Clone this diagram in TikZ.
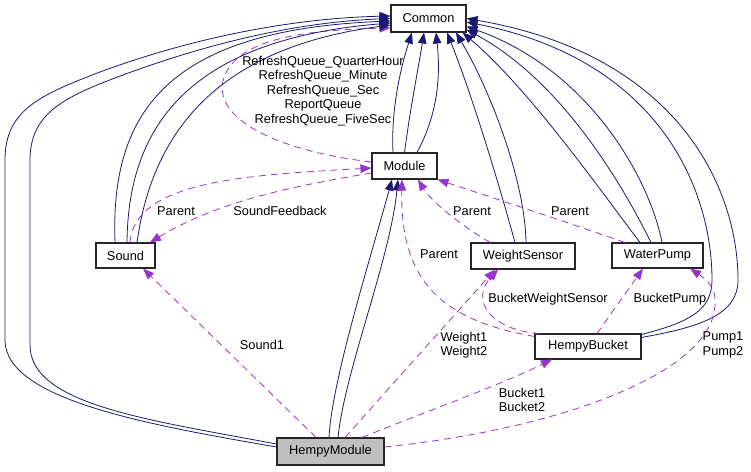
\documentclass[tikz,border=0pt]{standalone}
\usepackage{fontspec}
\setmainfont{Liberation Sans}
\usetikzlibrary{arrows.meta,positioning}

\definecolor{edgeblue}{HTML}{191970}
\definecolor{edgepurple}{HTML}{9A32CD}
\definecolor{nodegrey}{HTML}{BFBFBF}

\begin{document}
\begin{tikzpicture}[
    x=1pt, y=-1pt,
    font=\fontsize{12.8}{14.5}\selectfont,
    cls/.style={rectangle, draw=black!85, line width=1.1pt, fill=white, inner sep=0pt, minimum height=25pt},
    inherit/.style={-{Triangle[length=11pt,width=8.5pt]}, draw=edgeblue, line width=0.8pt},
    member/.style={-{Triangle[length=11pt,width=8.5pt]}, draw=edgepurple, line width=0.8pt, dash pattern=on 7pt off 5pt},
    lbl/.style={align=center, inner sep=0pt}
]
\useasboundingbox (0,0) rectangle (751,471);

% Classes
\node[cls, minimum width=75pt, minimum height=27pt] (common) at (428.5,18.5) {Common};
\node[cls, minimum width=65pt, minimum height=26pt] (module) at (404.5,166) {Module};
\node[cls, minimum width=59pt] (sound) at (125.5,255.5) {Sound};
\node[cls, minimum width=104pt, minimum height=26pt] (weight) at (523,256) {WeightSensor};
\node[cls, minimum width=91pt] (water) at (657.5,255.5) {WaterPump};
\node[cls, minimum width=106pt] (bucket) at (588,346.5) {HempyBucket};
\node[cls, fill=nodegrey, minimum width=107pt, minimum height=27pt] (hm) at (330.5,451.5) {HempyModule};

% Module holds the queues
\draw[member] ([yshift=4pt]module.west) .. controls (270,150) and (208,115) .. (225,75) .. controls (240,40) and (300,30) .. ([yshift=-9.5pt]common.west);

% Inheritance into Common
\draw[inherit] ([xshift=-11.5pt]module.north) .. controls (391,110) and (400,70) .. ([xshift=-16.5pt]common.south);
\draw[inherit] (module.north) .. controls (410,110) and (418,70) .. ([xshift=-4.5pt]common.south);
\draw[inherit] ([xshift=12.5pt]module.north) .. controls (440,110) and (440,70) .. ([xshift=7.5pt]common.south);
\draw[inherit] ([xshift=-10.5pt]sound.north) .. controls (110,110) and (170,30) .. ([yshift=-2.5pt]common.west);
\draw[inherit] ([xshift=1.5pt]sound.north) .. controls (128,130) and (185,40) .. ([yshift=-4.5pt]common.west);
\draw[inherit] ([xshift=11.5pt]sound.north) .. controls (150,150) and (200,50) .. ([yshift=-6.5pt]common.west);
\draw[inherit] ([yshift=4.5pt]hm.west) .. controls (150,425) and (5,400) .. (5,340) -- (5,160) .. controls (5,110) and (40,95) .. (100,72) .. controls (200,35) and (300,18) .. ([yshift=2.5pt]common.west);
\draw[inherit] ([yshift=7.5pt]hm.west) .. controls (150,420) and (30,405) .. (30,345) -- (30,160) .. controls (30,115) and (62,98) .. (115,78) .. controls (210,42) and (300,22) .. (common.west);
\draw[inherit] ([xshift=-8pt]weight.north) .. controls (495,170) and (470,90) .. ([xshift=18.5pt]common.south);
\draw[inherit] ([xshift=3pt]weight.north) .. controls (525,180) and (490,90) .. ([xshift=27.5pt]common.south);
\draw[inherit] ([xshift=-17.5pt]water.north) .. controls (600,190) and (530,90) .. ([xshift=-4pt]common.south east);
\draw[inherit] ([xshift=-6.5pt]water.north) .. controls (620,180) and (560,80) .. ([yshift=3pt]common.south east);
\draw[inherit] ([xshift=4.5pt]water.north) .. controls (650,180) and (590,70) .. ([yshift=6pt]common.south east);
\draw[inherit] ([yshift=-1pt]bucket.north east) .. controls (690,322) and (712,310) .. (712,280) .. controls (712,190) and (660,60) .. ([yshift=-3.5pt]common.east);
\draw[inherit] ([yshift=-4pt]bucket.north east) .. controls (700,327) and (738,315) .. (738,280) .. controls (738,190) and (680,55) .. (common.east);

% Inheritance into Module
\draw[inherit] ([xshift=-1.5pt]hm.north) .. controls (332,380) and (370,260) .. ([xshift=-12.5pt]module.south);
\draw[inherit] ([xshift=7.5pt]hm.north) .. controls (345,370) and (390,260) .. ([xshift=-6.5pt]module.south);

% Parent links
\draw[member] ([xshift=4.5pt]sound.north) .. controls (135,180) and (250,175) .. ([yshift=-2pt]module.west);
\draw[member] ([yshift=-7pt]module.west) .. controls (300,185) and (220,200) .. ([xshift=24.5pt]sound.north);
\draw[member] ([xshift=-33pt]weight.north) .. controls (460,225) and (430,200) .. ([xshift=13.5pt]module.south);
\draw[member] ([xshift=-32.5pt]water.north) .. controls (560,220) and (500,200) .. (module.south east);
\draw[member] ([yshift=-3pt]bucket.north west) .. controls (440,320) and (400,280) .. ([xshift=-2.5pt]module.south);

% HempyModule members
\draw[member] ([xshift=-14.5pt]hm.north) -- ([xshift=17.5pt]sound.south);
\draw[member] ([xshift=14.5pt]hm.north) -- ([xshift=-28pt]weight.south);
\draw[member] ([xshift=31.5pt]hm.north) .. controls (430,410) and (500,385) .. ([xshift=-36pt]bucket.south);
\draw[member] ([yshift=4.5pt]hm.east) .. controls (550,430) and (690,380) .. (712,320) .. controls (720,295) and (712,283) .. ([xshift=32.5pt]water.south);

% HempyBucket members
\draw[member] ([xshift=5pt]bucket.north west) .. controls (490,330) and (470,300) .. ([xshift=-25pt]weight.south);
\draw[member] ([xshift=9pt]bucket.north) -- ([xshift=-14.5pt]water.south);

% Labels
\node[lbl] (lblQueues) at (323,91) {RefreshQueue\_QuarterHour\\RefreshQueue\_Minute\\RefreshQueue\_Sec\\ReportQueue\\RefreshQueue\_FiveSec};
\node[lbl] (lblSoundParent) at (176,211) {Parent};
\node[lbl] (lblFeedback) at (280,211) {SoundFeedback};
\node[lbl] (lblWeightParent) at (472,211) {Parent};
\node[lbl] (lblWaterParent) at (570,211) {Parent};
\node[lbl] (lblBucketParent) at (439,254) {Parent};
\node[lbl] (lblBucketWeight) at (548,299) {BucketWeightSensor};
\node[lbl] (lblBucketPump) at (670,299) {BucketPump};
\node[lbl] (lblSound1) at (262,345) {Sound1};
\node[lbl] (lblWeights) at (464,345) {Weight1\\Weight2};
\node[lbl] (lblPumps) at (723,345) {Pump1\\Pump2};
\node[lbl] (lblBuckets) at (522,400) {Bucket1\\Bucket2};

\end{tikzpicture}
\end{document}
